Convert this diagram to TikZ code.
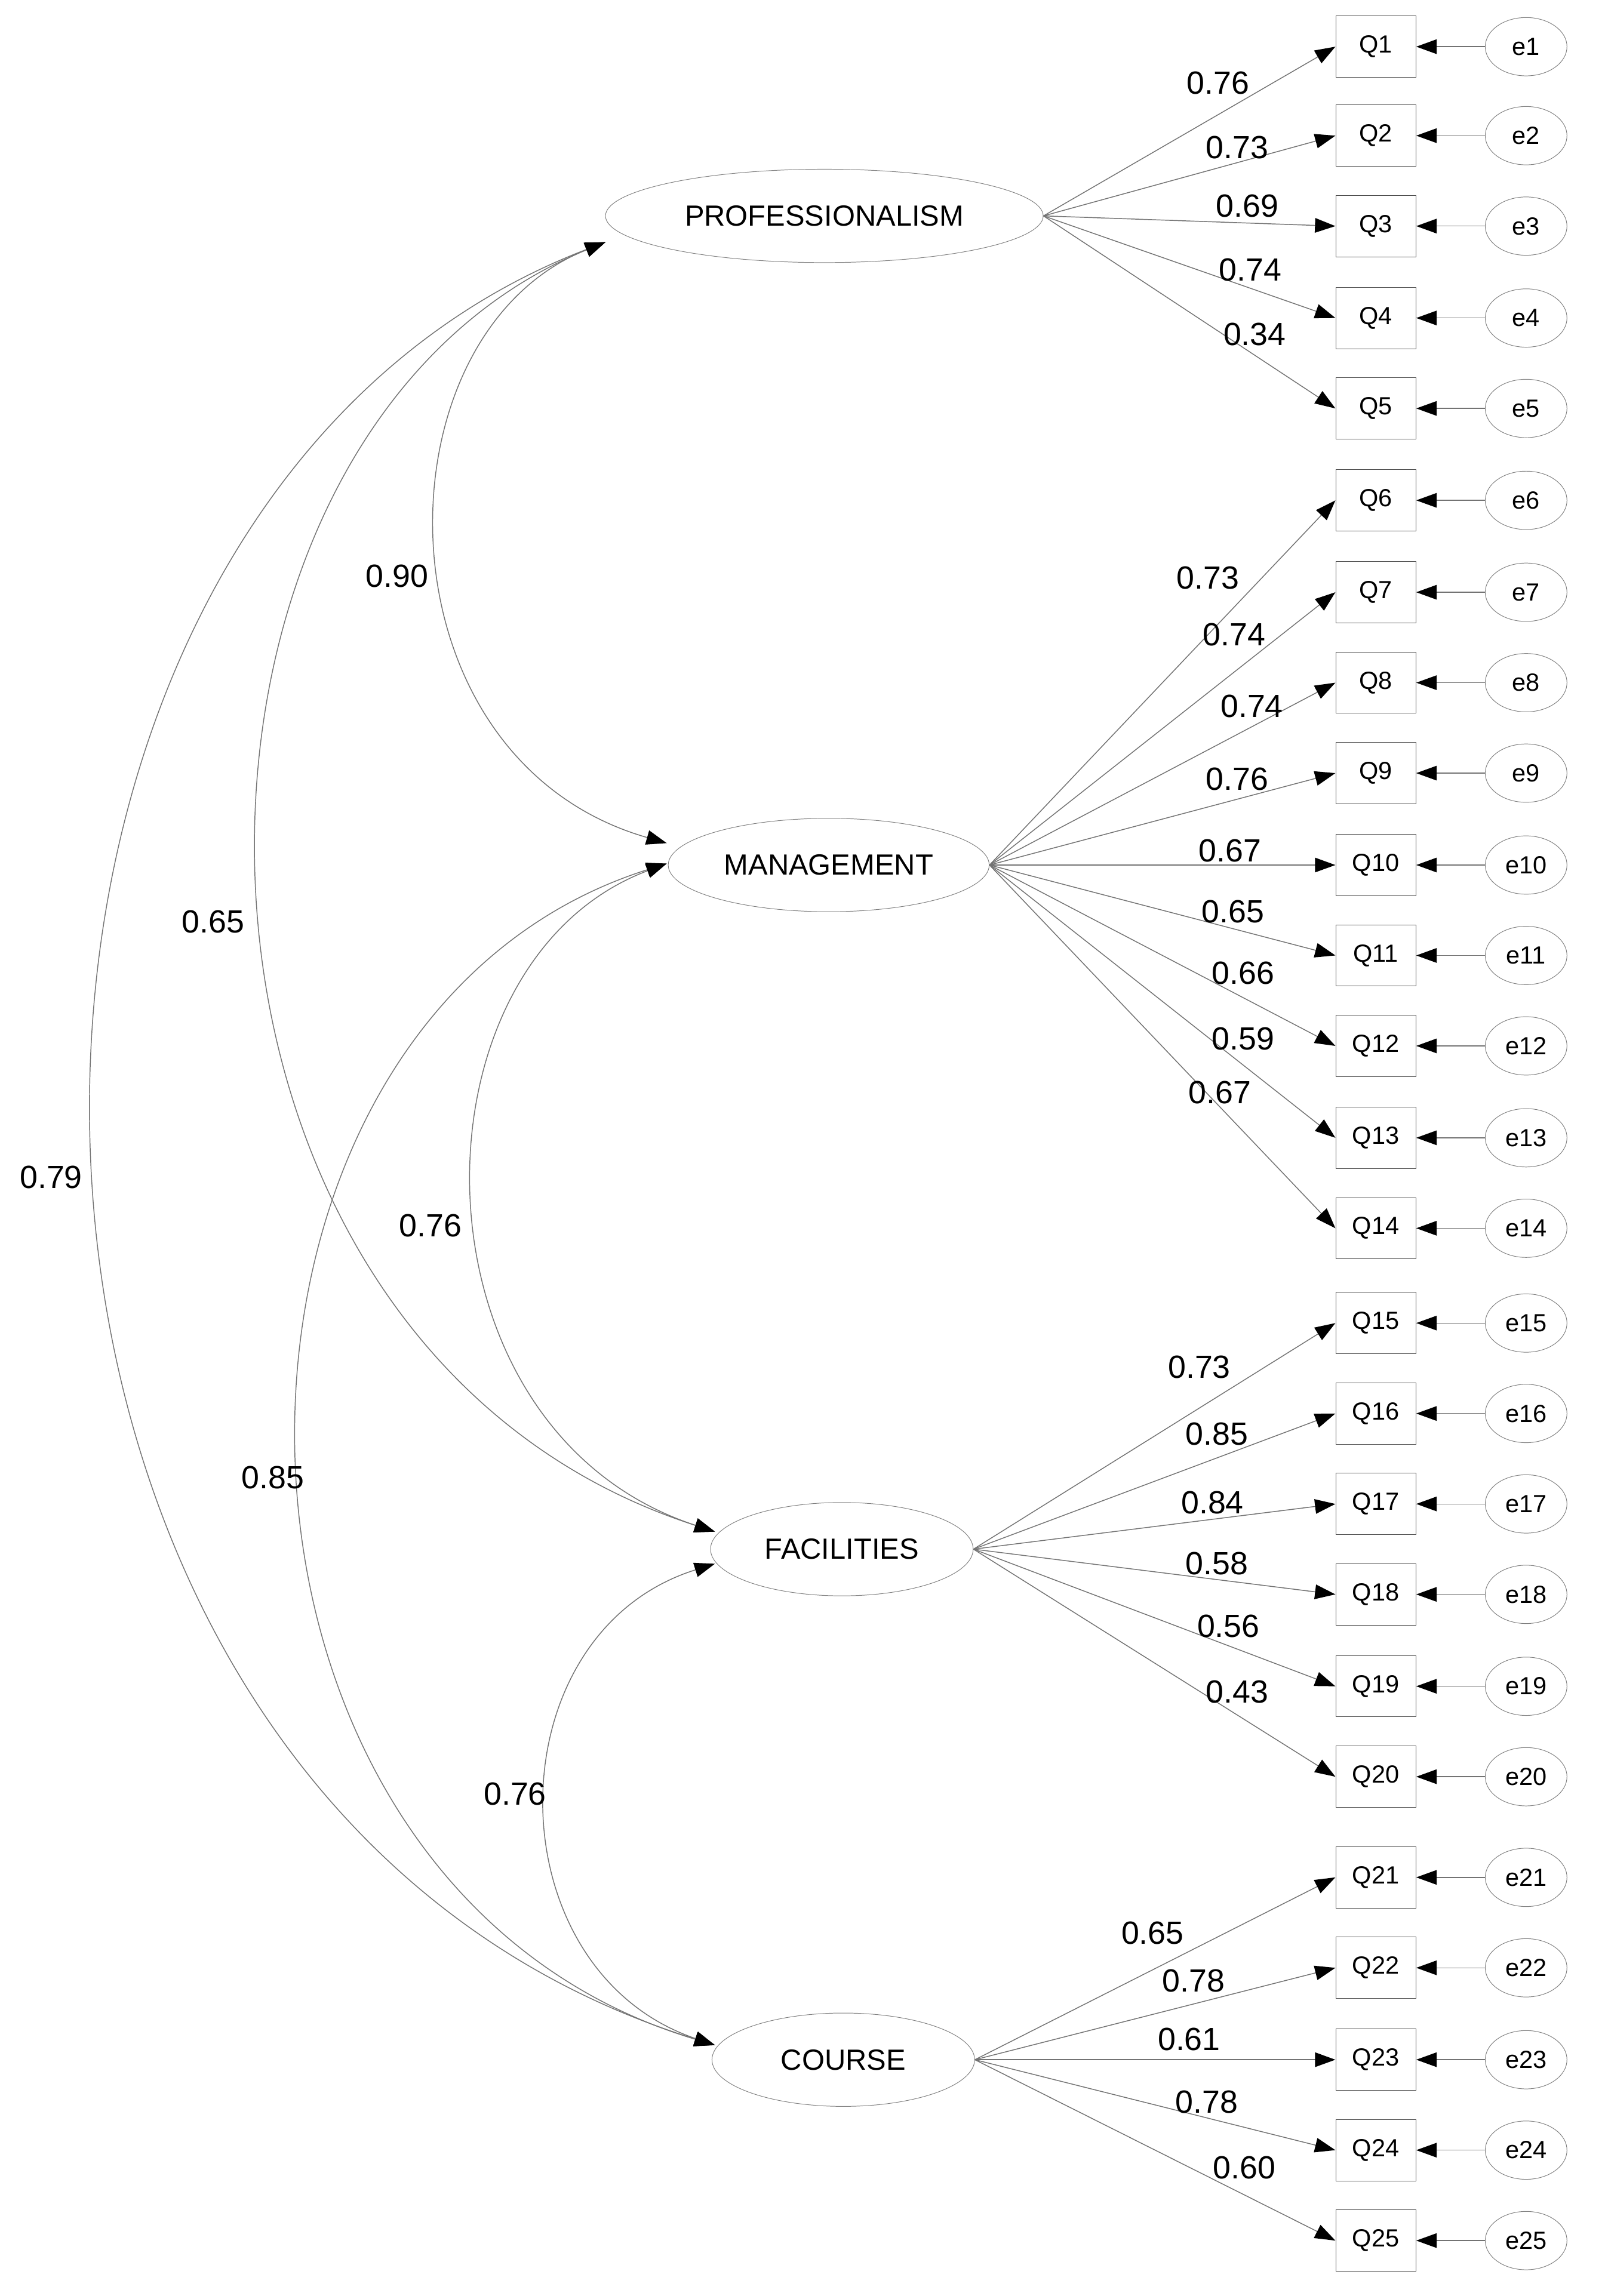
\documentclass[tikz,border=0pt]{standalone}
\usepackage{fontspec}
\setmainfont{Liberation Sans}
\usetikzlibrary{arrows.meta,shapes.geometric}
\begin{document}
\begin{tikzpicture}[x=1pt,y=-1pt,
  lat/.style={draw=gray,ellipse,minimum width=#1,minimum height=64pt,inner sep=0pt,font=\fontsize{20}{24}\selectfont},
  obs/.style={draw=black!70,minimum width=55pt,minimum height=42pt,inner sep=0pt,font=\fontsize{17}{20}\selectfont},
  err/.style={draw=gray,ellipse,minimum width=56pt,minimum height=40pt,inner sep=0pt,font=\fontsize{17}{20}\selectfont},
  ld/.style={draw=black!55,line width=0.6pt,-{Triangle[length=14pt,width=10pt,color=black]}},
  cv/.style={draw=black!55,line width=0.6pt,{Triangle[length=14pt,width=10pt,color=black]}-{Triangle[length=14pt,width=10pt,color=black]}},
  lab/.style={font=\fontsize{22}{26}\selectfont}]
\useasboundingbox (0,0) rectangle (1100,1574);
\node[lat=300pt] (P) at (565,148) {PROFESSIONALISM};
\node[lat=220pt] (M) at (568,593) {MANAGEMENT};
\node[lat=180pt] (F) at (577,1062) {FACILITIES};
\node[lat=180pt] (C) at (578,1412) {COURSE};
\foreach \i/\y in {1/32,2/93,3/155,4/218,5/280,6/343,7/406,8/468,9/530,10/593,11/655,12/717,13/780,14/842,15/907,16/969,17/1031,18/1093,19/1156,20/1218,21/1287,22/1349,23/1412,24/1474,25/1536}{
  \node[obs] (Q\i) at (943,\y) {Q\i};
  \node[err] (e\i) at (1046,\y) {e\i};
  \draw[ld] (e\i) -- (Q\i);
}
\foreach \i in {1,...,5}{\draw[ld] (P.east) -- (Q\i.west);}
\foreach \i in {6,...,14}{\draw[ld] (M.east) -- (Q\i.west);}
\foreach \i in {15,...,20}{\draw[ld] (F.east) -- (Q\i.west);}
\foreach \i in {21,...,25}{\draw[ld] (C.east) -- (Q\i.west);}
\foreach \v/\x/\y in {0.76/835/57,0.73/848/101,0.69/855/141,0.74/857/185,0.34/860/229,
 0.73/828/396,0.74/846/435,0.74/858/484,0.76/848/534,0.67/843/583,0.65/845/625,0.66/852/667,0.59/852/712,0.67/836/749,
 0.73/822/937,0.85/834/983,0.84/831/1030,0.58/834/1072,0.56/842/1115,0.43/848/1160,
 0.65/790/1325,0.78/818/1358,0.61/815/1398,0.78/827/1441,0.60/853/1486}{
  \node[lab] at (\x,\y) {\v};}
\coordinate (Pa) at (415,166);
\coordinate (Ma) at (457,578);
\coordinate (Mb) at (457,592);
\coordinate (Fa) at (490,1050);
\coordinate (Fb) at (490,1072);
\coordinate (Ca) at (490,1402);
\draw[cv] (Pa) .. controls (255,230) and (255,520) .. (Ma);
\draw[cv] (Pa) .. controls (87,300) and (87,920) .. (Fa);
\draw[cv] (Pa) .. controls (-64,350) and (-64,1230) .. (Ca);
\draw[cv] (Mb) .. controls (276,660) and (276,980) .. (Fa);
\draw[cv] (Mb) .. controls (116,700) and (116,1290) .. (Ca);
\draw[cv] (Fb) .. controls (337,1120) and (337,1350) .. (Ca);
\node[lab] at (272,395) {0.90};
\node[lab] at (146,632) {0.65};
\node[lab] at (35,807) {0.79};
\node[lab] at (295,840) {0.76};
\node[lab] at (187,1013) {0.85};
\node[lab] at (353,1230) {0.76};
\end{tikzpicture}
\end{document}
